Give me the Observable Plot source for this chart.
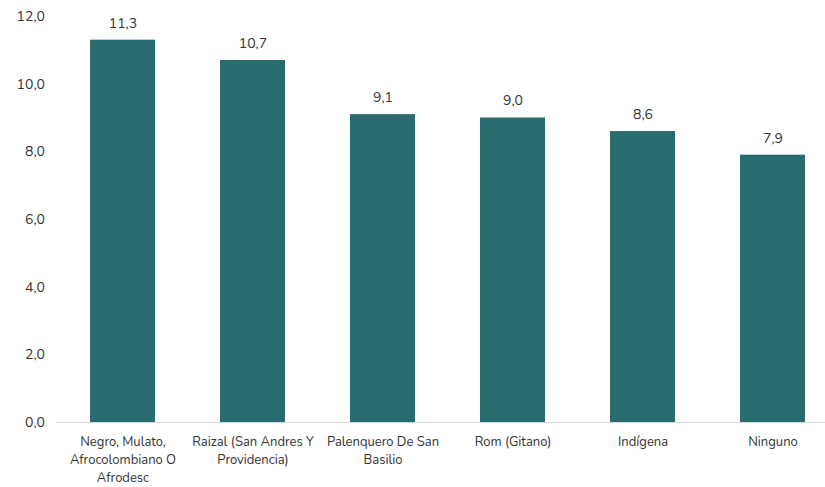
<!DOCTYPE html>
<html>
<head>
<meta charset="utf-8">
<script src="https://cdn.jsdelivr.net/npm/d3@7"></script>
<script src="https://cdn.jsdelivr.net/npm/@observablehq/plot@0.6"></script>
<style>
  html, body { margin: 0; padding: 0; background: #fff; }
  svg { font-family: "Nunito", "Lato", "Open Sans", sans-serif; }
</style>
</head>
<body>
<div id="chart"></div>
<script>
const categories = [
  "Negro, Mulato, Afrocolombiano O Afrodesc",
  "Raizal (San Andres Y Providencia)",
  "Palenquero De San Basilio",
  "Rom (Gitano)",
  "Indígena",
  "Ninguno"
];
const tickLabels = [
  "Negro, Mulato,\nAfrocolombiano O\nAfrodesc",
  "Raizal (San Andres Y\nProvidencia)",
  "Palenquero De San\nBasilio",
  "Rom (Gitano)",
  "Indígena",
  "Ninguno"
];
const values = [11.3, 10.7, 9.1, 9.0, 8.6, 7.9];
const yTicks = [0, 2, 4, 6, 8, 10, 12];

const data = categories.map((c, i) => ({category: c, value: values[i]}));
const labelOf = new Map(categories.map((c, i) => [c, tickLabels[i]]));
const fmt = v => v.toFixed(1).replace(".", ",");

const chart = Plot.plot({
  width: 825,
  height: 487,
  marginLeft: 57.5,
  marginRight: 0,
  marginTop: 16,
  marginBottom: 65,
  style: {fontSize: "13px", color: "#333", background: "#fff"},
  x: {domain: categories, range: [57.5, 837.5], paddingInner: 0.5, paddingOuter: 0.25, label: null},
  y: {domain: [0, 12], ticks: yTicks, label: null},
  marks: [
    Plot.barY(data, {x: "category", y: "value", fill: "#296b6e"}),
    Plot.ruleY([0], {stroke: "#d9d9d9", strokeWidth: 1.2}),
    Plot.text(data, {x: "category", y: "value", text: d => fmt(d.value), dy: -17, fontSize: 14, fill: "#333"}),
    Plot.axisY({ticks: yTicks, tickSize: 0, tickPadding: 13, tickFormat: fmt, fontSize: 14, fill: "#333"}),
    Plot.axisX({tickSize: 0, tickPadding: 11, tickFormat: d => labelOf.get(d), fontSize: 13, fill: "#333", lineHeight: 1.38, lineAnchor: "top"})
  ]
});
document.getElementById("chart").appendChild(chart);
</script>
</body>
</html>
